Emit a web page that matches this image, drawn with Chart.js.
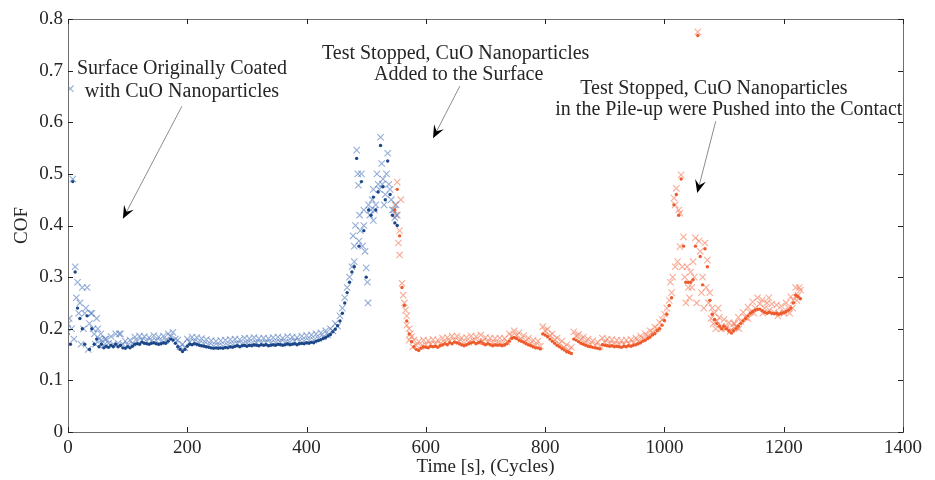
<!DOCTYPE html>
<html>
<head>
<meta charset="utf-8">
<script src="https://cdn.jsdelivr.net/npm/chart.js@4.4.1/dist/chart.umd.min.js"></script>
<style>
  html, body { margin: 0; padding: 0; background: #ffffff; }
  #wrap { width: 935px; height: 480px; }
</style>
</head>
<body>
<div id="wrap"><canvas id="cof" width="935" height="480"></canvas></div>
<script>
// Coefficient of friction vs. time, sampled every 4 cycles.
// Phase 1 (blue): coated surface run; phase 2 (orange): run after nanoparticle addition.
const sampleStep = 4;

const blueStart = 0;
const blueCross = [
  0.21, 0.665, 0.49, 0.32, 0.29, 0.25, 0.28, 0.23, 0.28, 0.21, 0.23, 0.19, 0.22, 0.18, 0.178, 0.168,
  0.18, 0.172, 0.185, 0.17, 0.19, 0.172, 0.19, 0.17, 0.176, 0.168, 0.178, 0.172, 0.184, 0.176, 0.186, 0.178,
  0.185, 0.175, 0.183, 0.176, 0.187, 0.177, 0.184, 0.175, 0.186, 0.178, 0.19, 0.185, 0.193, 0.18, 0.178, 0.165,
  0.17, 0.163, 0.18, 0.174, 0.184, 0.175, 0.183, 0.172, 0.181, 0.17, 0.179, 0.168, 0.177, 0.166, 0.176, 0.167,
  0.177, 0.166, 0.178, 0.168, 0.179, 0.169, 0.18, 0.171, 0.179, 0.17, 0.182, 0.172, 0.181, 0.171, 0.183, 0.173,
  0.181, 0.172, 0.182, 0.173, 0.181, 0.172, 0.183, 0.173, 0.184, 0.174, 0.182, 0.173, 0.185, 0.174, 0.184, 0.176,
  0.183, 0.175, 0.186, 0.176, 0.187, 0.177, 0.188, 0.178, 0.19, 0.181, 0.192, 0.184, 0.196, 0.188, 0.2, 0.196,
  0.21, 0.205, 0.225, 0.24, 0.26, 0.28, 0.30, 0.32, 0.33, 0.546, 0.37, 0.50, 0.40, 0.318, 0.44, 0.43,
  0.47, 0.44, 0.48, 0.571, 0.49, 0.46, 0.54, 0.47, 0.43, 0.415, 0.42
];
const blueDot = [
  0.19, 0.17, 0.485, 0.31, 0.24, 0.22, 0.2, 0.17, 0.225, 0.16, 0.2, 0.17, 0.18, 0.165, 0.17, 0.163,
  0.166, 0.164, 0.168, 0.165, 0.17, 0.165, 0.168, 0.163, 0.162, 0.165, 0.163, 0.166, 0.17, 0.171, 0.17, 0.174,
  0.172, 0.171, 0.17, 0.172, 0.173, 0.171, 0.17, 0.171, 0.173, 0.172, 0.176, 0.18, 0.178, 0.172, 0.165, 0.16,
  0.156, 0.16, 0.166, 0.17, 0.169, 0.171, 0.17, 0.168, 0.167, 0.166, 0.165, 0.164, 0.163, 0.162, 0.163, 0.162,
  0.163, 0.162, 0.164, 0.163, 0.165, 0.164, 0.166, 0.167, 0.165, 0.167, 0.168, 0.166, 0.168, 0.167, 0.169, 0.168,
  0.167, 0.169, 0.168, 0.169, 0.167, 0.168, 0.169, 0.168, 0.17, 0.169, 0.168, 0.169, 0.171, 0.169, 0.17, 0.171,
  0.169, 0.171, 0.172, 0.171, 0.173, 0.172, 0.174, 0.173, 0.176, 0.177, 0.179, 0.181, 0.183, 0.186, 0.189, 0.194,
  0.199, 0.206, 0.215, 0.23, 0.25, 0.27, 0.29, 0.31, 0.32, 0.53, 0.36, 0.485, 0.39, 0.30, 0.43, 0.42,
  0.455, 0.43, 0.465, 0.555, 0.475, 0.45, 0.525, 0.46, 0.42, 0.405, 0.40
];
// additional scattered readings in the noisy run-in and transition zones
const blueExtraTime = [2, 6, 10, 14, 18, 22, 26, 30, 34, 38, 42, 46, 50, 55, 62, 86,
  478, 480, 482, 486, 487, 489, 490, 494, 496, 498, 502, 503, 506, 510, 512, 514, 518, 522, 526, 527, 530, 534, 538, 542, 546, 550];
const blueExtraCOF = [0.22, 0.2, 0.18, 0.26, 0.23, 0.17, 0.2, 0.24, 0.16, 0.23, 0.2, 0.17, 0.2, 0.19, 0.18, 0.19,
  0.38, 0.36, 0.40, 0.50, 0.478, 0.42, 0.39, 0.36, 0.43, 0.35, 0.29, 0.25, 0.42, 0.45, 0.41, 0.43, 0.50, 0.47, 0.52, 0.48, 0.44, 0.50, 0.48, 0.45, 0.43, 0.44];

const orangeStart = 548;
const orangeCross = [
  0.44, 0.484, 0.39, 0.288, 0.25, 0.225, 0.20, 0.185, 0.178, 0.168, 0.175, 0.166, 0.178, 0.169, 0.177, 0.17,
  0.179, 0.17, 0.178, 0.171, 0.182, 0.173, 0.183, 0.176, 0.186, 0.177, 0.186, 0.176, 0.182, 0.172, 0.183, 0.174,
  0.186, 0.177, 0.185, 0.175, 0.188, 0.176, 0.183, 0.174, 0.182, 0.172, 0.181, 0.172, 0.182, 0.171, 0.181, 0.175,
  0.19, 0.186, 0.196, 0.187, 0.192, 0.18, 0.187, 0.176, 0.182, 0.172, 0.178, 0.168, 0.176, 0.166, 0.204, 0.196,
  0.199, 0.187, 0.19, 0.179, 0.182, 0.171, 0.176, 0.164, 0.169, 0.158, 0.164, 0.194, 0.186, 0.189, 0.179, 0.184,
  0.174, 0.18, 0.17, 0.177, 0.168, 0.174, 0.166, 0.182, 0.174, 0.18, 0.171, 0.179, 0.17, 0.178, 0.169, 0.177,
  0.17, 0.178, 0.171, 0.179, 0.173, 0.182, 0.176, 0.186, 0.181, 0.19, 0.186, 0.196, 0.193, 0.203, 0.2, 0.212,
  0.218, 0.228, 0.24, 0.255, 0.27, 0.453, 0.472, 0.43, 0.498, 0.378, 0.25, 0.28, 0.31, 0.33, 0.376, 0.775,
  0.35, 0.30, 0.366, 0.333, 0.27, 0.24, 0.23, 0.215, 0.222, 0.205, 0.218, 0.203, 0.212, 0.198, 0.21, 0.204,
  0.222, 0.214, 0.232, 0.222, 0.242, 0.232, 0.252, 0.24, 0.26, 0.248, 0.256, 0.24, 0.25, 0.236, 0.248, 0.232,
  0.246, 0.23, 0.244, 0.234, 0.25, 0.24, 0.262, 0.255, 0.28, 0.265, 0.275
];
const orangeDot = [
  0.43, 0.47, 0.38, 0.28, 0.245, 0.215, 0.19, 0.175, 0.165, 0.16, 0.158, 0.162, 0.165, 0.164, 0.163, 0.166,
  0.165, 0.166, 0.164, 0.167, 0.169, 0.171, 0.169, 0.173, 0.171, 0.174, 0.173, 0.171, 0.169, 0.167, 0.169, 0.171,
  0.173, 0.174, 0.171, 0.173, 0.175, 0.171, 0.169, 0.171, 0.169, 0.167, 0.169, 0.168, 0.169, 0.167, 0.169, 0.171,
  0.176, 0.181, 0.183, 0.181, 0.178, 0.176, 0.174, 0.171, 0.169, 0.167, 0.165, 0.163, 0.163, 0.161, 0.19, 0.188,
  0.185, 0.18, 0.176, 0.172, 0.168, 0.165, 0.162, 0.159, 0.156, 0.154, 0.152, 0.18, 0.178, 0.175, 0.172, 0.17,
  0.168, 0.166, 0.165, 0.164, 0.163, 0.162, 0.161, 0.169, 0.168, 0.167, 0.166, 0.167, 0.165, 0.166, 0.165, 0.164,
  0.166, 0.165, 0.167, 0.166, 0.168, 0.169, 0.171, 0.173, 0.176, 0.178, 0.181, 0.184, 0.188, 0.191, 0.196, 0.2,
  0.207, 0.216, 0.228, 0.245, 0.26, 0.44, 0.46, 0.42, 0.49, 0.36, 0.29, 0.29, 0.29, 0.295, 0.36, 0.768,
  0.34, 0.285, 0.355, 0.32, 0.255, 0.228, 0.218, 0.21, 0.205, 0.2, 0.205, 0.2, 0.196, 0.192, 0.196, 0.2,
  0.205, 0.21, 0.215, 0.22, 0.225, 0.23, 0.233, 0.236, 0.238, 0.238, 0.235, 0.232, 0.23, 0.232, 0.23, 0.229,
  0.23, 0.228, 0.23, 0.231, 0.233, 0.236, 0.24, 0.25, 0.265, 0.262, 0.258
];
const orangeExtraTime = [550, 554, 556, 558, 562, 566, 568, 572, 574, 578,
  1010, 1014, 1018, 1018, 1022, 1026, 1026, 1030, 1034, 1038, 1042, 1046, 1050, 1054, 1058, 1062, 1066, 1070, 1074, 1078,
  1082, 1086, 1090, 1096, 1102, 1110, 1118, 1125, 1140, 1150, 1165, 1175, 1190, 1200, 1210, 1215, 1222, 1226];
const orangeExtraCOF = [0.42, 0.366, 0.343, 0.45, 0.265, 0.236, 0.207, 0.178, 0.19, 0.165,
  0.29, 0.30, 0.32, 0.44, 0.33, 0.359, 0.424, 0.32, 0.30, 0.32, 0.26, 0.28, 0.30, 0.25, 0.37, 0.27, 0.24, 0.28, 0.25, 0.22,
  0.21, 0.2, 0.24, 0.2, 0.2, 0.195, 0.21, 0.2, 0.22, 0.23, 0.23, 0.26, 0.225, 0.23, 0.23, 0.24, 0.255, 0.28];

const timeTicks = [0, 200, 400, 600, 800, 1000, 1200, 1400];
const cofTicks = [0, 0.1, 0.2, 0.3, 0.4, 0.5, 0.6, 0.7, 0.8];

// callouts: text lines anchored in (time, COF), arrow from tail to tip
const callouts = [
  { lines: [
      { text: 'Surface Originally Coated', t: 191, c: 0.703 },
      { text: 'with CuO Nanoparticles', t: 191, c: 0.660 } ],
    tail: { t: 191, c: 0.631 }, tip: { t: 92, c: 0.413 } },
  { lines: [
      { text: 'Test Stopped, CuO Nanoparticles', t: 650, c: 0.733 },
      { text: 'Added to the Surface', t: 655, c: 0.692 } ],
    tail: { t: 657, c: 0.670 }, tip: { t: 612, c: 0.569 } },
  { lines: [
      { text: 'Test Stopped, CuO Nanoparticles', t: 1083, c: 0.665 },
      { text: 'in the Pile-up were Pushed into the Contact', t: 1108, c: 0.624 } ],
    tail: { t: 1086, c: 0.602 }, tip: { t: 1055, c: 0.463 } }
];

const serif = '"Liberation Serif", "Times New Roman", serif';

function seq(start, values) {
  return values.map((v, i) => ({ x: start + i * sampleStep, y: v }));
}
function pairs(times, values) {
  return times.map((t, i) => ({ x: t, y: values[i] }));
}

const crossStyle = (color) => ({
  pointStyle: 'crossRot', pointRadius: 4.5, pointHoverRadius: 4.5,
  borderColor: color, borderWidth: 1.1, backgroundColor: color, showLine: false, order: 2
});
const dotStyle = (color) => ({
  pointStyle: 'circle', pointRadius: 1.7, pointHoverRadius: 1.7,
  borderWidth: 0, backgroundColor: color, borderColor: color, showLine: false, order: 1
});

const blueLight = 'rgba(84, 124, 190, 0.62)';
const blueDark = '#1b4788';
const orangeLight = 'rgba(244, 118, 84, 0.6)';
const orangeDark = '#ef5a2a';

// frame with inward tick marks on all four sides
const framePlugin = {
  id: 'frame',
  afterDatasetsDraw(chart) {
    const { ctx, chartArea: a, scales: { x, y } } = chart;
    ctx.save();
    ctx.strokeStyle = '#6e6e6e';
    ctx.lineWidth = 1;
    ctx.strokeRect(Math.round(a.left) + 0.5, Math.round(a.top) + 0.5,
      Math.round(a.right - a.left), Math.round(a.bottom - a.top));
    ctx.strokeStyle = '#222';
    const len = 5;
    ctx.beginPath();
    timeTicks.forEach(t => {
      const px = Math.round(x.getPixelForValue(t)) + 0.5;
      ctx.moveTo(px, a.bottom); ctx.lineTo(px, a.bottom - len);
      ctx.moveTo(px, a.top); ctx.lineTo(px, a.top + len);
    });
    cofTicks.forEach(c => {
      const py = Math.round(y.getPixelForValue(c)) + 0.5;
      ctx.moveTo(a.left, py); ctx.lineTo(a.left + len, py);
      ctx.moveTo(a.right, py); ctx.lineTo(a.right - len, py);
    });
    ctx.stroke();
    ctx.restore();
  }
};

const calloutPlugin = {
  id: 'callouts',
  afterDraw(chart) {
    const { ctx, scales: { x, y } } = chart;
    ctx.save();
    ctx.font = '20px ' + serif;
    ctx.textAlign = 'center';
    ctx.textBaseline = 'middle';
    callouts.forEach(co => {
      ctx.fillStyle = '#262626';
      co.lines.forEach(l => ctx.fillText(l.text, x.getPixelForValue(l.t), y.getPixelForValue(l.c)));
      const x0 = x.getPixelForValue(co.tail.t), y0 = y.getPixelForValue(co.tail.c);
      const x1 = x.getPixelForValue(co.tip.t), y1 = y.getPixelForValue(co.tip.c);
      const ang = Math.atan2(y1 - y0, x1 - x0);
      const headLen = 13, headHalf = 5.5, notch = 8;
      ctx.strokeStyle = '#8c8c8c';
      ctx.lineWidth = 1;
      ctx.beginPath();
      ctx.moveTo(x0, y0);
      ctx.lineTo(x1 - Math.cos(ang) * notch, y1 - Math.sin(ang) * notch);
      ctx.stroke();
      // filled chevron head
      const bx = x1 - Math.cos(ang) * headLen, by = y1 - Math.sin(ang) * headLen;
      const nx = -Math.sin(ang), ny = Math.cos(ang);
      ctx.fillStyle = '#000';
      ctx.beginPath();
      ctx.moveTo(x1, y1);
      ctx.lineTo(bx + nx * headHalf, by + ny * headHalf);
      ctx.lineTo(x1 - Math.cos(ang) * notch, y1 - Math.sin(ang) * notch);
      ctx.lineTo(bx - nx * headHalf, by - ny * headHalf);
      ctx.closePath();
      ctx.fill();
    });
    ctx.restore();
  }
};

new Chart(document.getElementById('cof'), {
  type: 'scatter',
  data: {
    datasets: [
      Object.assign({ label: 'Phase 1 mean', data: seq(blueStart, blueDot) }, dotStyle(blueDark)),
      Object.assign({ label: 'Phase 2 mean', data: seq(orangeStart, orangeDot) }, dotStyle(orangeDark)),
      Object.assign({ label: 'Phase 1', data: seq(blueStart, blueCross) }, crossStyle(blueLight)),
      Object.assign({ label: 'Phase 1 scatter', data: pairs(blueExtraTime, blueExtraCOF) }, crossStyle(blueLight)),
      Object.assign({ label: 'Phase 2', data: seq(orangeStart, orangeCross) }, crossStyle(orangeLight)),
      Object.assign({ label: 'Phase 2 scatter', data: pairs(orangeExtraTime, orangeExtraCOF) }, crossStyle(orangeLight))
    ]
  },
  options: {
    responsive: false,
    animation: false,
    devicePixelRatio: 1,
    layout: { padding: { left: 0, right: 32, top: 19, bottom: 0 } },
    plugins: { legend: { display: false }, tooltip: { enabled: false } },
    scales: {
      x: {
        type: 'linear', min: 0, max: 1400,
        afterBuildTicks: (s) => { s.ticks = timeTicks.map(v => ({ value: v })); },
        afterFit: (s) => { s.height = 48; },
        grid: { display: false, drawTicks: false },
        border: { display: false },
        ticks: { color: '#262626', padding: 5, maxRotation: 0, font: { family: serif, size: 19 },
          callback: (v) => String(v) },
        title: { display: true, text: 'Time [s], (Cycles)', color: '#262626',
          font: { family: serif, size: 19 }, padding: { top: 0, bottom: 2 } }
      },
      y: {
        type: 'linear', min: 0, max: 0.8,
        afterBuildTicks: (s) => { s.ticks = cofTicks.map(v => ({ value: v })); },
        afterFit: (s) => { s.width = 68; },
        grid: { display: false, drawTicks: false },
        border: { display: false },
        ticks: { color: '#262626', padding: 5, font: { family: serif, size: 19 },
          callback: (v) => (v === 0 ? '0' : Number(v).toFixed(1)) },
        title: { display: true, text: 'COF', color: '#262626',
          font: { family: serif, size: 19 }, padding: { top: 11, bottom: 0 } }
      }
    }
  },
  plugins: [framePlugin, calloutPlugin]
});
</script>
</body>
</html>
